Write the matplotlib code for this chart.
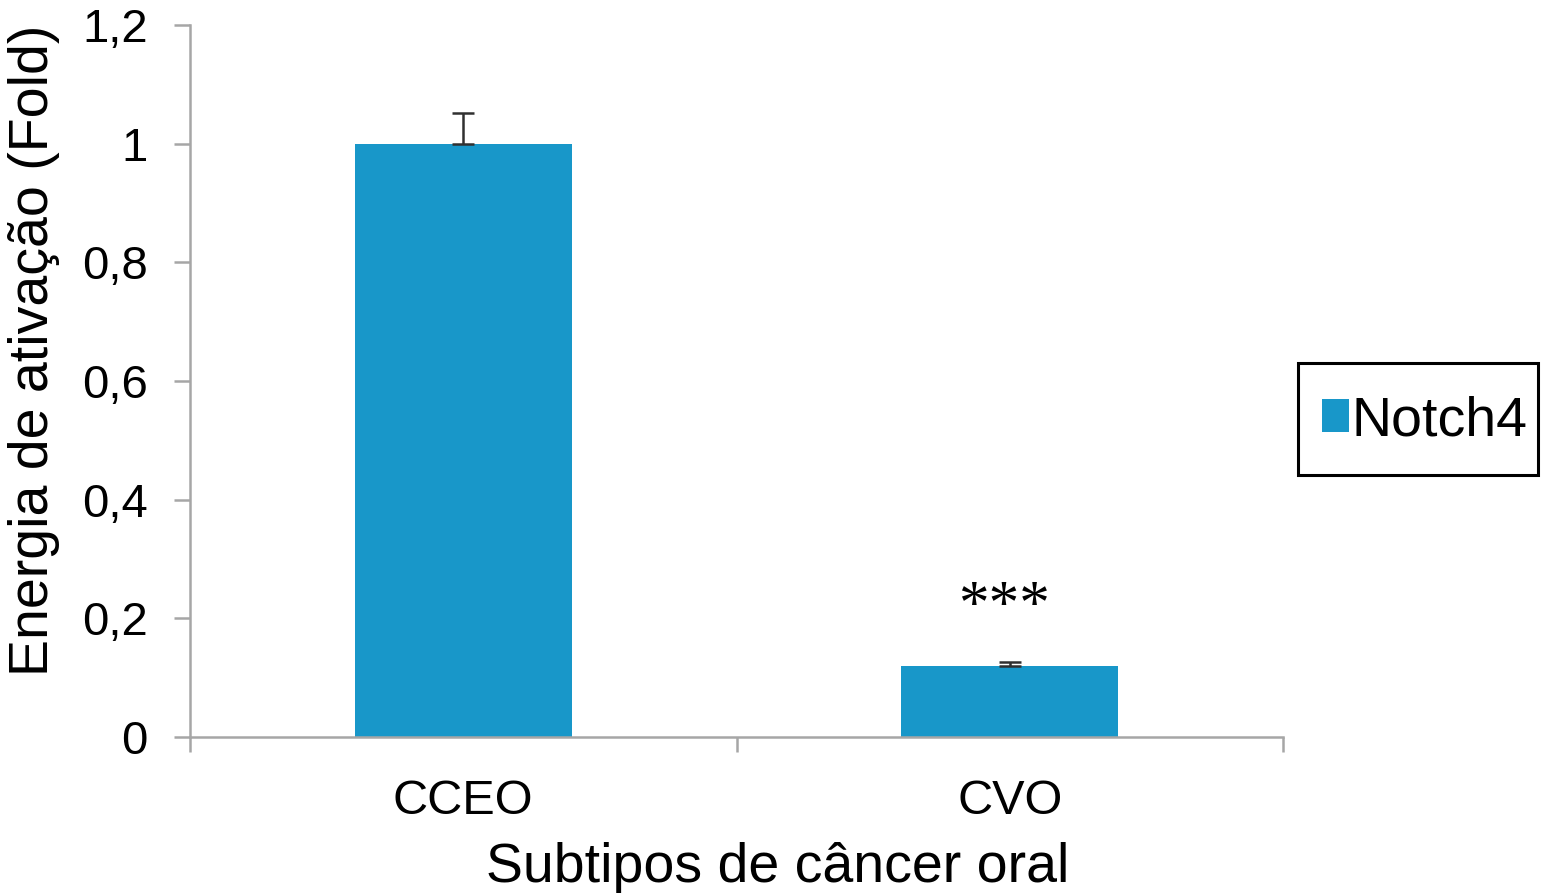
import matplotlib
matplotlib.use("Agg")
import matplotlib.pyplot as plt
from matplotlib.patches import Patch, Rectangle

categories = ["CCEO", "CVO"]
values = [1.0, 0.12]
errors_up = [0.052, 0.007]
series_name = "Notch4"
yticks = [0, 0.2, 0.4, 0.6, 0.8, 1.0, 1.2]
ytick_labels = ["0", "0,2", "0,4", "0,6", "0,8", "1", "1,2"]
significance = ["", "***"]

W, H = 1541, 893
plt.rcParams['font.family'] = ['Liberation Sans', 'DejaVu Sans']
fig = plt.figure(figsize=(W/100, H/100), dpi=100)
ax = fig.add_axes([190/W, 1-737/H, (1283-190)/W, (737-25)/H])

bar_color = '#1897C9'
x = list(range(len(categories)))
ax.bar(x, values, width=0.397, color=bar_color, zorder=2)
ax.errorbar(x, values, yerr=[[0]*len(values), errors_up], fmt='none',
            ecolor='#303030', elinewidth=1.8, capsize=8, capthick=1.8, zorder=3)

for xi, v, e, s in zip(x, values, errors_up, significance):
    if s:
        ax.text(xi - 0.01, 0.218, s, ha='center', va='center', fontsize=44,
                family='Liberation Serif')

ax.set_xlim(-0.5, len(categories) - 0.5)
ax.set_ylim(0, 1.2)
ax.set_yticks(yticks)
ax.set_yticklabels(ytick_labels)
ax.set_xticks(x)
ax.set_xticklabels(categories)
ax.set_xticks([i - 0.5 for i in range(len(categories) + 1)], minor=True)

spine_c = '#A6A6A6'
for s in ['top', 'right']:
    ax.spines[s].set_visible(False)
for s in ['left', 'bottom']:
    ax.spines[s].set_color(spine_c)
    ax.spines[s].set_linewidth(1.8)
ax.tick_params(axis='y', length=11.5, width=1.8, color=spine_c, labelsize=34, pad=19)
ax.tick_params(axis='x', which='major', length=0, labelsize=35, pad=30)
ax.tick_params(axis='x', which='minor', length=11, width=1.8, color=spine_c)

ax.set_xlabel("Subtipos de câncer oral", fontsize=40)
ax.xaxis.set_label_coords(0.538, -0.147)
ax.set_ylabel("Energia de ativação (Fold)", fontsize=40)
ax.yaxis.set_label_coords(-0.119, 0.5435)

# legend box
fig.patches.append(Rectangle((1298/W, 1-475/H), (1538-1298)/W, (475-363)/H,
                             transform=fig.transFigure, fill=False,
                             edgecolor='black', linewidth=2.2))
leg = fig.legend(handles=[Patch(facecolor=bar_color, label=series_name)],
                 loc='center', bbox_to_anchor=(1425/W, 1-421/H),
                 fontsize=40, frameon=False,
                 handlelength=0.49, handleheight=0.54, handletextpad=0.05,
                 borderpad=0.0, borderaxespad=0)

fig.savefig("out.png", dpi=100)
